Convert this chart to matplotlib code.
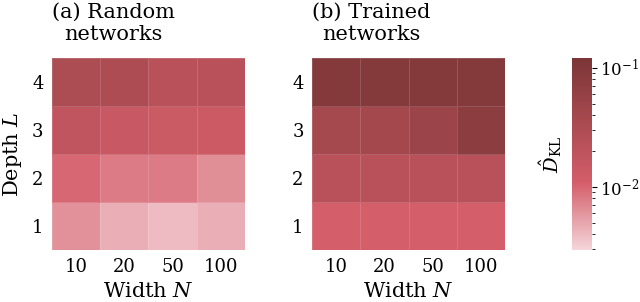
import numpy as np
import matplotlib
matplotlib.use("Agg")
import matplotlib.pyplot as plt
from matplotlib.colors import LinearSegmentedColormap, LogNorm

widths = ["10", "20", "50", "100"]
depths = ["1", "2", "3", "4"]

# rows: depth 1..4, cols: width 10, 20, 50, 100
dkl_random = [
    [0.0062, 0.0045, 0.0040, 0.0045],
    [0.0098, 0.0080, 0.0080, 0.0064],
    [0.0180, 0.0150, 0.0140, 0.0135],
    [0.0320, 0.0310, 0.0230, 0.0225],
]
dkl_trained = [
    [0.0110, 0.0110, 0.0110, 0.0110],
    [0.0228, 0.0228, 0.0230, 0.0230],
    [0.0370, 0.0400, 0.0510, 0.0750],
    [0.0950, 0.0950, 0.0950, 0.0950],
]

titles = ["(a) Random\nnetworks", "(b) Trained\nnetworks"]

plt.rcParams["font.family"] = "DejaVu Serif"
plt.rcParams["mathtext.fontset"] = "dejavuserif"
plt.rcParams["font.size"] = 13

cmap = LinearSegmentedColormap.from_list(
    "kl", [(0.0, "#f4d6da"), (0.35, "#d45e6a"), (1.0, "#7b3536")])
norm = LogNorm(vmin=0.00295, vmax=0.121)

fig = plt.figure(figsize=(6.4, 3.02), dpi=100)
ax_a = fig.add_axes([0.081, 0.172, 0.302, 0.636])
ax_b = fig.add_axes([0.4875, 0.172, 0.302, 0.636])
cax = fig.add_axes([0.894, 0.172, 0.031, 0.636])

for ax, data, title in zip([ax_a, ax_b], [dkl_random, dkl_trained], titles):
    mesh = ax.pcolormesh(np.array(data), cmap=cmap, norm=norm,
                         edgecolor=(1, 1, 1, 0.15), linewidth=0.4)
    ax.set_xticks(np.arange(len(widths)) + 0.5)
    ax.set_xticklabels(widths)
    ax.set_yticks(np.arange(len(depths)) + 0.5)
    ax.set_yticklabels(depths)
    ax.tick_params(length=0, pad=6, labelsize=13)
    for s in ax.spines.values():
        s.set_visible(False)
    ax.set_xlabel("Width $N$", fontsize=15, labelpad=4)
    ax.set_title(title, loc="left", multialignment="center", fontsize=15, pad=13)

ax_a.set_ylabel("Depth $L$", fontsize=15, labelpad=6)

cb = fig.colorbar(mesh, cax=cax)
cb.outline.set_visible(False)
cax.yaxis.set_label_position("left")
cb.set_label(r"$\hat{D}_{\mathrm{KL}}$", fontsize=14, labelpad=6)
cax.tick_params(which="both", direction="out", labelsize=12, pad=2)

fig.savefig("out.png", dpi=100)
